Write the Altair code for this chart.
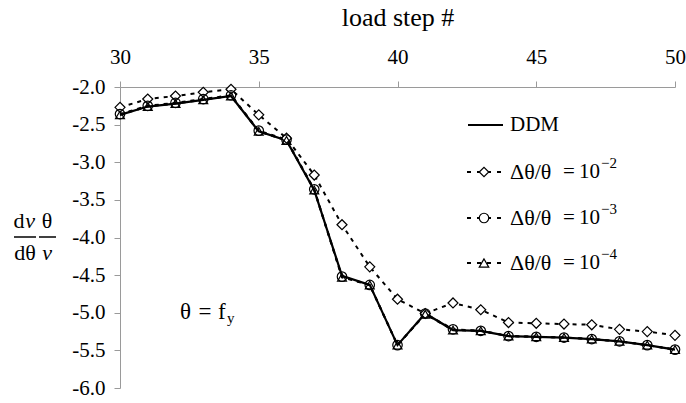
import altair as alt
import pandas as pd

# ---------------- data ----------------
steps = list(range(30, 51))
ddm = [-2.37, -2.26, -2.22, -2.17, -2.12, -2.59, -2.71, -3.37, -4.51, -4.63, -5.43,
       -5.01, -5.23, -5.24, -5.31, -5.32, -5.33, -5.35, -5.38, -5.43, -5.49]
fd_1e2 = [-2.27, -2.16, -2.12, -2.07, -2.03, -2.37, -2.68, -3.17, -3.83, -4.39, -4.82,
          -5.01, -4.87, -4.96, -5.13, -5.14, -5.15, -5.16, -5.22, -5.25, -5.30]
fd_1e3 = [-2.36, -2.25, -2.21, -2.16, -2.11, -2.58, -2.70, -3.36, -4.52, -4.63, -5.43,
          -5.01, -5.22, -5.24, -5.31, -5.32, -5.33, -5.35, -5.38, -5.43, -5.49]
fd_1e4 = [-2.37, -2.26, -2.22, -2.17, -2.12, -2.59, -2.71, -3.37, -4.53, -4.63, -5.43,
          -5.02, -5.23, -5.24, -5.31, -5.32, -5.33, -5.35, -5.38, -5.43, -5.49]

series_names = ["DDM", "1e-2", "1e-3", "1e-4"]
legend_labels = ["DDM", "Δθ/θ", "Δθ/θ", "Δθ/θ"]
legend_exponents = ["", "−2", "−3", "−4"]
x_ticks = [30, 35, 40, 45, 50]
y_ticks = [-2.0, -2.5, -3.0, -3.5, -4.0, -4.5, -5.0, -5.5, -6.0]

FONT = "Liberation Serif"
W, H = 555, 301

rows = []
for name, vals in zip(series_names, [ddm, fd_1e2, fd_1e3, fd_1e4]):
    for s, v in zip(steps, vals):
        rows.append({"step": s, "val": v, "series": name})
df = pd.DataFrame(rows)

xs = alt.Scale(domain=[30, 50], nice=False)
ys = alt.Scale(domain=[-6, -2], nice=False)

X = alt.X("step:Q", scale=xs, axis=alt.Axis(
    orient="top", values=x_ticks, title="load step #", titlePadding=16,
    labelPadding=14, tickSize=6, grid=False, labelFlush=False, labelOverlap=False,
    format="d"))
Y = alt.Y("val:Q", scale=ys, axis=alt.Axis(
    orient="left", values=y_ticks, title=None, labelPadding=9, tickSize=6,
    grid=False, labelOverlap=False, tickCount=9,
    labelExpr="replace(format(datum.value, '.1f'), '\u2212', '-')"))

base = alt.Chart(df)

# lines: FD series dashed first, DDM solid on top
lines_fd = base.transform_filter(alt.datum.series != "DDM").mark_line(
    color="black", strokeWidth=2, strokeDash=[4, 5]).encode(
    x=X, y=Y, detail="series:N", order=alt.Order("step:Q"))
line_ddm = base.transform_filter(alt.datum.series == "DDM").mark_line(
    color="black", strokeWidth=2.2).encode(x=X, y=Y)

pts_e2 = base.transform_filter(alt.datum.series == "1e-2").mark_point(
    shape="diamond", size=100, color="black", strokeWidth=1.2, fill="white",
    fillOpacity=1, opacity=1).encode(x=X, y=Y)
pts_e4 = base.transform_filter(alt.datum.series == "1e-4").mark_point(
    shape="triangle-up", size=80, color="black", strokeWidth=1.2, opacity=1).encode(x=X, y=Y)
pts_e3 = base.transform_filter(alt.datum.series == "1e-3").mark_point(
    shape="circle", size=90, color="black", strokeWidth=1.2, opacity=1).encode(x=X, y=Y)

layers = [lines_fd, line_ddm, pts_e2, pts_e4, pts_e3]

one = pd.DataFrame({"k": [0]})


def txt(s, x, y, size=21, italic=False, align="center"):
    return alt.Chart(pd.DataFrame({"t": [s]})).mark_text(
        font=FONT, fontSize=size, align=align, baseline="middle", color="black",
        fontStyle="italic" if italic else "normal").encode(
        x=alt.value(x), y=alt.value(y), text="t:N")


# ---------------- legend drawn by hand ----------------
leg_y = [38, 85, 131, 176]
leg_shapes = [None, "diamond", "circle", "triangle-up"]
for i, lab in enumerate(legend_labels):
    yy = leg_y[i]
    if i == 0:
        layers.append(alt.Chart(one).mark_rule(color="black", strokeWidth=2).encode(
            x=alt.value(348), x2=alt.value(383), y=alt.value(yy)))
        layers.append(txt(lab, 390, yy, align="left"))
    else:
        layers.append(alt.Chart(one).mark_rule(color="black", strokeWidth=2,
                                               strokeDash=[4, 6]).encode(
            x=alt.value(347), x2=alt.value(381), y=alt.value(yy)))
        layers.append(alt.Chart(one).mark_point(shape=leg_shapes[i], size=90,
                                                color="black", strokeWidth=1.2,
                                                fill="white", fillOpacity=1,
                                                opacity=1).encode(
            x=alt.value(364), y=alt.value(yy)))
        layers.append(txt(lab, 390, yy, size=22, align="left"))
        layers.append(txt("=", 449, yy, align="center"))
        layers.append(txt("10", 459, yy, align="left"))
        layers.append(txt(legend_exponents[i], 481, yy - 9, size=15, align="left"))

# ---------------- y-axis label as fraction: (dv/dθ)(θ/v) ----------------
layers += [
    txt("d", -101, 134, size=22), txt("v", -90, 134, size=22, italic=True),
    txt("dθ", -95, 166, size=22),
    txt("θ", -73, 134, size=22), txt("v", -73, 166, size=22, italic=True),
    alt.Chart(one).mark_rule(color="black", strokeWidth=1.5).encode(
        x=alt.value(-106), x2=alt.value(-84), y=alt.value(150)),
    alt.Chart(one).mark_rule(color="black", strokeWidth=1.5).encode(
        x=alt.value(-81), x2=alt.value(-64), y=alt.value(150)),
    # annotation θ = f_y
    txt("θ", 60, 225, size=23, align="left"),
    txt("=", 85, 225, size=23, align="center"),
    txt("f", 98, 225, size=23, align="left"),
    txt("y", 107, 231, size=15, align="left"),
]

chart = alt.layer(*layers).properties(
    width=W, height=H,
    autosize=alt.AutoSizeParams(type="none"),
    padding={"left": 120, "top": 87, "right": 11, "bottom": 15},
).configure(background="white", font=FONT).configure_view(stroke=None).configure_axis(
    labelFont=FONT, labelFontSize=21, labelColor="black",
    titleFont=FONT, titleFontSize=26, titleFontWeight="normal", titleColor="black",
    tickColor="#9a9a9a", domainColor="#9a9a9a", tickWidth=1, domainWidth=1,
)

chart.save("out.html", embed_options={"renderer": "svg", "actions": False})
